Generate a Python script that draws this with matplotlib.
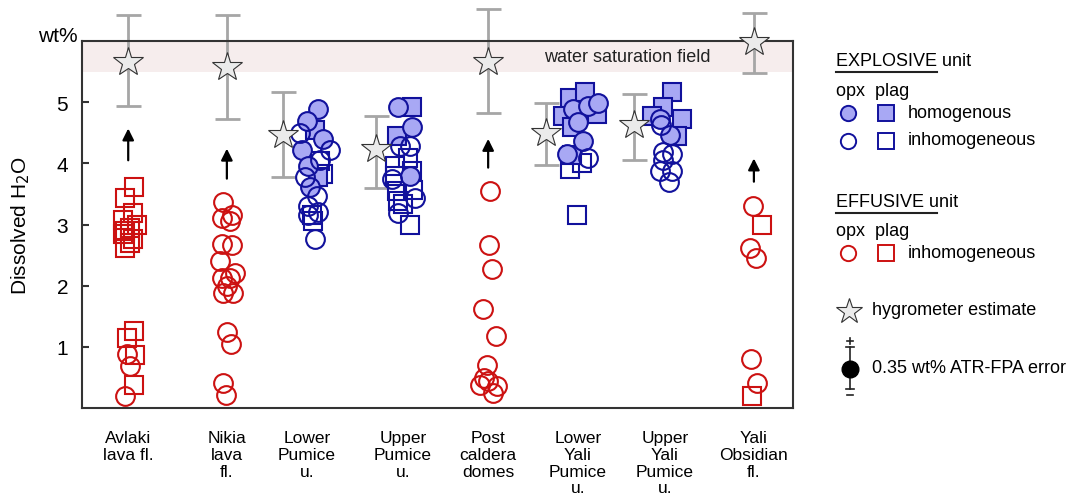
import matplotlib
matplotlib.use("Agg")
import matplotlib.pyplot as plt
from matplotlib.lines import Line2D

plt.rcParams["font.family"] = ["Liberation Sans", "DejaVu Sans"]
plt.rcParams["font.size"] = 12

# ---------------------------------------------------------------- data
units = ["Avlaki\nlava fl.", "Nikia\nlava\nfl.", "Lower\nPumice\nu.",
         "Upper\nPumice\nu.", "Post\ncaldera\ndomes", "Lower\nYali\nPumice\nu.",
         "Upper\nYali\nPumice\nu.", "Yali\nObsidian\nfl."]
unit_x = [0.52, 1.63, 2.53, 3.61, 4.57, 5.58, 6.56, 7.56]

# hygrometer estimates with their uncertainty range
hyg_x = [0.52, 1.63, 2.26, 3.31, 4.57, 5.22, 6.21, 7.56]
hyg_y = [5.66, 5.58, 4.47, 4.24, 5.66, 4.50, 4.62, 5.99]
hyg_lo = [4.93, 4.73, 3.78, 3.59, 4.83, 3.98, 4.06, 5.48]
hyg_hi = [6.43, 6.43, 5.17, 4.78, 6.52, 4.98, 5.14, 6.46]

# arrows (effusive units: minimum values, degassed)
arrow_x = [0.52, 1.63, 4.57, 7.56]
arrow_tail = [4.05, 3.75, 3.93, 3.70]
arrow_tip = [4.57, 4.24, 4.40, 4.08]

# effusive unit, opx (circles) and plag (squares) - inhomogeneous
eff_opx_x = [0.51, 0.54, 0.48,
             1.59, 1.69, 1.58, 1.67, 1.58, 1.69, 1.55, 1.72, 1.58, 1.67, 1.63,
             1.59, 1.70, 1.63, 1.68, 1.59, 1.62,
             4.59, 4.58, 4.61, 4.51, 4.66, 4.56, 4.48, 4.57, 4.67, 4.62, 4.52,
             7.55, 7.52, 7.58, 7.53, 7.60]
eff_opx_y = [0.88, 0.68, 0.19,
             3.36, 3.15, 3.10, 3.05, 2.68, 2.66, 2.40, 2.20, 2.12, 2.12, 1.99,
             1.88, 1.88, 1.25, 1.04, 0.41, 0.22,
             3.54, 2.66, 2.27, 1.62, 1.17, 0.70, 0.38, 0.44, 0.36, 0.24, 0.49,
             3.31, 2.61, 2.45, 0.80, 0.41]
eff_plag_x = [0.59, 0.48, 0.57, 0.46, 0.62, 0.48, 0.54, 0.57, 0.48, 0.54,
              0.46, 0.59, 0.51, 0.60, 0.59,
              7.65, 7.54]
eff_plag_y = [3.62, 3.43, 3.18, 3.07, 2.99, 2.89, 2.94, 2.77, 2.61, 2.69,
              2.84, 1.26, 1.14, 0.86, 0.38,
              2.99, 0.19]

# explosive unit, homogeneous
hom_opx_x = [2.66, 2.53, 2.48, 2.54, 2.57, 2.71,
             3.56, 3.71, 3.69,
             5.52, 5.69, 5.81, 5.58, 5.64, 5.46,
             6.50, 6.62]
hom_opx_y = [4.89, 4.70, 4.21, 3.96, 3.62, 4.40,
             4.92, 4.60, 3.80,
             4.89, 4.94, 4.98, 4.68, 4.37, 4.16,
             4.73, 4.47]
hom_plag_x = [2.62, 2.66,
              3.71, 3.54,
              5.49, 5.66, 5.41, 5.79, 5.51, 5.51,
              6.64, 6.54, 6.41, 6.75, 6.69]
hom_plag_y = [4.54, 3.78,
              4.92, 4.45,
              5.06, 5.17, 4.78, 4.81, 4.60, 4.13,
              5.17, 4.92, 4.78, 4.73, 4.45]

# explosive unit, inhomogeneous
inh_opx_x = [2.45, 2.79, 2.68, 2.51, 2.64, 2.54, 2.66, 2.54, 2.62,
             3.58, 3.69, 3.49, 3.75, 3.56,
             5.69,
             6.51, 6.54, 6.64, 6.54, 6.50, 6.64, 6.60]
inh_opx_y = [4.49, 4.21, 4.05, 3.78, 3.47, 3.31, 3.21, 3.15, 2.77,
             4.29, 4.29, 3.75, 3.43, 3.18,
             4.09,
             4.62, 4.18, 4.16, 4.05, 3.87, 3.87, 3.70]
inh_plag_x = [2.68, 2.71, 2.59, 2.60,
              3.52, 3.67, 3.71, 3.52, 3.72, 3.54, 3.61, 3.69, 3.56,
              5.63, 5.49, 5.57]
inh_plag_y = [4.03, 3.83, 3.15, 3.05,
              3.96, 4.08, 3.87, 3.80, 3.56, 3.54, 3.34, 2.99, 3.38,
              4.01, 3.91, 3.15]

yticks = [1, 2, 3, 4, 5]
ytick_labels = ["1", "2", "3", "4", "5"]

# ---------------------------------------------------------------- style
RED = "#cc1111"
BLUE = "#11119c"
LBLUE = "#a8a8f4"
GREY = "#a6a6a6"
MS = 13.5
MEW = 1.5

W, H = 1073, 502
fig = plt.figure(figsize=(W / 100, H / 100), dpi=100)
ax = fig.add_axes([82 / W, (H - 409) / H, 711 / W, 367 / H])
ax.set_xlim(0, 8)
ax.set_ylim(0, 6)

ax.axhspan(5.5, 6.0, color="#f6eded", zorder=0, lw=0)
ax.text(6.13, 5.75, "water saturation field", ha="center", va="center",
        fontsize=13, color="#222222", zorder=1)

# hygrometer error bars and stars
for x, y, lo, hi in zip(hyg_x, hyg_y, hyg_lo, hyg_hi):
    ax.errorbar([x], [y], yerr=[[y - lo], [hi - y]], fmt="none", ecolor=GREY,
                elinewidth=2.0, capsize=9, capthick=2.0, clip_on=False, zorder=2)
ax.plot(hyg_x, hyg_y, ls="none", marker="*", ms=22, mfc="#ebebeb", mec="#333333",
        mew=0.8, clip_on=False, zorder=6)

for x, t0, t1 in zip(arrow_x, arrow_tail, arrow_tip):
    ax.annotate("", xy=(x, t1), xytext=(x, t0),
                arrowprops=dict(arrowstyle="-|>", color="black", lw=1.6,
                                mutation_scale=17, shrinkA=0, shrinkB=0))

# data points
ax.plot(eff_opx_x, eff_opx_y, ls="none", marker="o", ms=MS, mfc="none", mec=RED, mew=MEW, zorder=3)
ax.plot(eff_plag_x, eff_plag_y, ls="none", marker="s", ms=MS, mfc="none", mec=RED, mew=MEW, zorder=3)
ax.plot(inh_plag_x, inh_plag_y, ls="none", marker="s", ms=MS, mfc="none", mec=BLUE, mew=MEW, zorder=4)
ax.plot(hom_plag_x, hom_plag_y, ls="none", marker="s", ms=MS, mfc=LBLUE, mec=BLUE, mew=MEW, zorder=4)
ax.plot(hom_opx_x, hom_opx_y, ls="none", marker="o", ms=MS, mfc=LBLUE, mec=BLUE, mew=MEW, zorder=4)
ax.plot(inh_opx_x, inh_opx_y, ls="none", marker="o", ms=MS, mfc="none", mec=BLUE, mew=MEW, zorder=5)

# axes styling
for s in ax.spines.values():
    s.set_color("#333333")
    s.set_linewidth(1.5)
ax.set_xticks([])
ax.set_yticks(yticks)
ax.set_yticklabels(ytick_labels, fontsize=15)
ax.tick_params(axis="y", direction="in", length=5, width=1.5, color="#333333", pad=10)
ax.text(-0.006, 1.014, "wt%", transform=ax.transAxes, ha="right", va="center",
        fontsize=15)
ax.set_ylabel("Dissolved H$_2$O", fontsize=15)
ax.yaxis.set_label_coords(-0.071, 0.5)

for x, lab in zip(unit_x, units):
    ax.text(x, -0.06, lab, transform=ax.get_xaxis_transform(), ha="center",
            va="top", multialignment="center", fontsize=12.5, linespacing=1.15,
            clip_on=False)

# ---------------------------------------------------------------- key
lg = fig.add_axes([0, 0, 1, 1])
lg.set_xlim(0, W)
lg.set_ylim(H, 0)
lg.axis("off")
lg.patch.set_alpha(0)

FS = 13
LMS = 11
def key_mark(x, y, marker, fc, ec, ms=LMS, mew=1.4):
    lg.plot([x], [y], ls="none", marker=marker, ms=ms, mfc=fc, mec=ec, mew=mew)

def heading(y, title):
    lg.text(836, y, title, ha="left", va="center", fontsize=FS)
    lg.add_line(Line2D([836, 937], [y + 11, y + 11], color="#222222", lw=1.5))
    lg.text(836, y + 29, "opx  plag", ha="left", va="center", fontsize=FS)

heading(62, "EXPLOSIVE unit")
key_mark(848, 114, "o", LBLUE, BLUE)
key_mark(886, 114, "s", LBLUE, BLUE)
lg.text(908, 113, "homogenous", ha="left", va="center", fontsize=FS)
key_mark(848, 142, "o", "none", BLUE)
key_mark(886, 142, "s", "none", BLUE)
lg.text(908, 141, "inhomogeneous", ha="left", va="center", fontsize=FS)

heading(203, "EFFUSIVE unit")
key_mark(848, 254, "o", "none", RED)
key_mark(886, 254, "s", "none", RED)
lg.text(908, 253, "inhomogeneous", ha="left", va="center", fontsize=FS)

key_mark(849, 312, "*", "#ebebeb", "#333333", ms=19, mew=0.8)
lg.text(872, 311, "hygrometer estimate", ha="left", va="center", fontsize=FS)

# analytical error glyph: bar with +/- signs
ek = dict(color="#222222", lw=1.2)
lg.add_line(Line2D([850, 850], [348, 390], **ek))
lg.add_line(Line2D([846, 854], [348, 348], **ek))
lg.add_line(Line2D([846, 854], [390, 390], **ek))
lg.add_line(Line2D([847, 853], [342, 342], **ek))
lg.add_line(Line2D([850, 850], [339, 345], **ek))
lg.add_line(Line2D([847, 853], [396, 396], **ek))
key_mark(850, 370, "o", "black", "black", ms=12, mew=1)
lg.text(872, 369, "0.35 wt% ATR-FPA error", ha="left", va="center", fontsize=FS)

fig.savefig("out.png", dpi=100)
